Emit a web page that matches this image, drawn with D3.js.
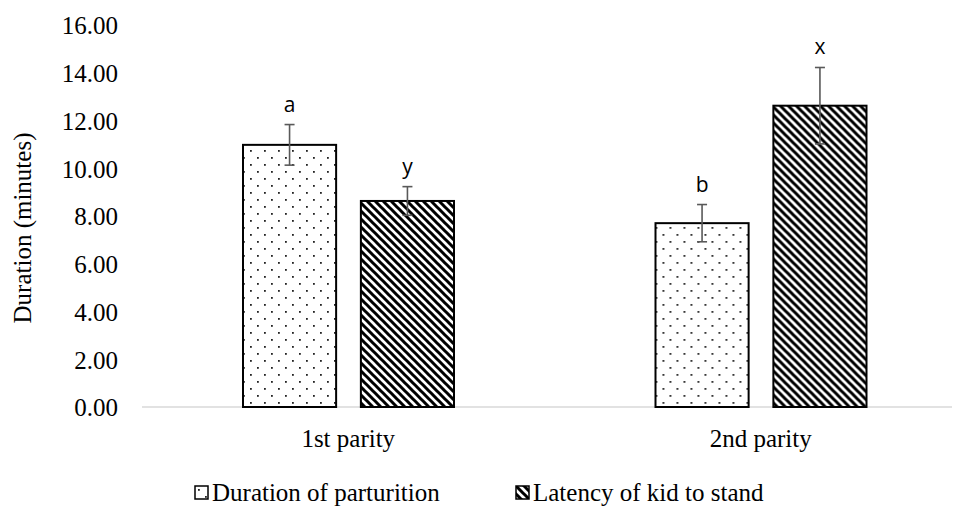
<!DOCTYPE html>
<html lang="en">
<head>
    <meta charset="UTF-8">
    <title>Duration by parity</title>
    <script src="https://d3js.org/d3.v7.min.js"></script>
    <style>
        body { margin: 0; background: #fff; }
    </style>
</head>
<body>
    <svg width="954" height="506"></svg>
    <script>
        // data
        const categories = ["1st parity", "2nd parity"];
        const seriesNames = ["Duration of parturition", "Latency of kid to stand"];
        const durationValues = [10.98, 7.70];
        const durationErrors = [0.85, 0.78];
        const latencyValues = [8.63, 12.62];
        const latencyErrors = [0.60, 1.60];
        const durationLetters = ["a", "b"];
        const latencyLetters = ["y", "x"];
        const yTicks = [0, 2, 4, 6, 8, 10, 12, 14, 16];

        const serif = "'Liberation Serif', 'Times New Roman', Times, Tinos, 'DejaVu Serif', 'Noto Serif', serif";
        const sans = "'Open Sans', 'Liberation Sans', sans-serif";

        const rows = categories.map((c, i) => ({
            cat: c,
            bars: [
                { key: 0, value: durationValues[i], err: durationErrors[i], letter: durationLetters[i] },
                { key: 1, value: latencyValues[i], err: latencyErrors[i], letter: latencyLetters[i] }
            ]
        }));

        const svg = d3.select("svg");

        // patterns
        const defs = svg.append("defs");
        const dots = defs.append("pattern")
            .attr("id", "dots")
            .attr("patternUnits", "userSpaceOnUse")
            .attr("width", 14).attr("height", 14);
        dots.append("rect").attr("width", 14).attr("height", 14).attr("fill", "#fff");
        [[3, 3], [10, 10]].forEach(p => {
            dots.append("rect").attr("x", p[0]).attr("y", p[1])
                .attr("width", 1.8).attr("height", 1.8).attr("fill", "#222");
        });

        const stripes = defs.append("pattern")
            .attr("id", "stripes")
            .attr("patternUnits", "userSpaceOnUse")
            .attr("width", 8).attr("height", 8);
        stripes.append("rect").attr("width", 8).attr("height", 8).attr("fill", "#fff");
        stripes.append("path")
            .attr("d", "M-2,6 L2,10 M0,0 L8,8 M6,-2 L10,2")
            .attr("stroke", "#000").attr("stroke-width", 3);

        const fills = ["url(#dots)", "url(#stripes)"];

        // scales
        const y = d3.scaleLinear().domain([0, 16]).range([407, 25]);
        const x0 = d3.scaleBand().domain(categories).range([142, 967]);
        const x1 = d3.scaleBand().domain([0, 1])
            .range([101, 312])
            .paddingInner(0.21);

        // y tick labels (no axis line)
        const yAxis = svg.append("g")
            .attr("transform", "translate(128,0)")
            .call(d3.axisLeft(y).tickValues(yTicks).tickSize(0).tickPadding(10)
                .tickFormat(d3.format(".2f")));
        yAxis.attr("font-family", serif).attr("font-size", 25);
        yAxis.select(".domain").remove();
        yAxis.selectAll("text").attr("fill", "#000").attr("dy", "0.35em");

        // baseline
        svg.append("line")
            .attr("x1", 142).attr("x2", 952)
            .attr("y1", y(0)).attr("y2", y(0))
            .attr("stroke", "#d9d9d9").attr("stroke-width", 1.5);

        // bars
        const groups = svg.selectAll(".grp")
            .data(rows)
            .enter().append("g")
            .attr("class", "grp")
            .attr("transform", d => `translate(${x0(d.cat)},0)`);

        groups.selectAll("rect")
            .data(d => d.bars)
            .enter().append("rect")
            .attr("x", d => x1(d.key))
            .attr("y", d => y(d.value))
            .attr("width", x1.bandwidth())
            .attr("height", d => y(0) - y(d.value))
            .attr("fill", d => fills[d.key])
            .attr("stroke", "#000")
            .attr("stroke-width", 2);

        // error bars
        const eb = groups.selectAll(".err")
            .data(d => d.bars)
            .enter().append("g")
            .attr("class", "err")
            .attr("stroke", "#595959")
            .attr("stroke-width", 1.6);
        eb.append("line")
            .attr("x1", d => x1(d.key) + x1.bandwidth() / 2)
            .attr("x2", d => x1(d.key) + x1.bandwidth() / 2)
            .attr("y1", d => y(d.value + d.err))
            .attr("y2", d => y(d.value - d.err));
        [1, -1].forEach(s => {
            eb.append("line")
                .attr("x1", d => x1(d.key) + x1.bandwidth() / 2 - 5)
                .attr("x2", d => x1(d.key) + x1.bandwidth() / 2 + 5)
                .attr("y1", d => y(d.value + s * d.err))
                .attr("y2", d => y(d.value + s * d.err));
        });

        // significance letters
        groups.selectAll(".sig-label")
            .data(d => d.bars)
            .enter().append("text")
            .attr("class", "sig-label")
            .attr("x", d => x1(d.key) + x1.bandwidth() / 2)
            .attr("y", d => y(d.value + d.err) - 13)
            .attr("text-anchor", "middle")
            .attr("font-family", sans)
            .attr("font-size", 21)
            .text(d => d.letter);

        // category labels
        svg.selectAll(".cat-label")
            .data(categories)
            .enter().append("text")
            .attr("class", "cat-label")
            .attr("x", d => x0(d) + x0.bandwidth() / 2)
            .attr("y", 447)
            .attr("text-anchor", "middle")
            .attr("font-family", serif)
            .attr("font-size", 25)
            .text(d => d);

        // y axis title
        svg.append("text")
            .attr("transform", `translate(31,${(y(0) + y(16)) / 2 + 12}) rotate(-90)`)
            .attr("text-anchor", "middle")
            .attr("font-family", serif)
            .attr("font-size", 25)
            .text("Duration (minutes)");

        // legend
        const legendX = [195, 516];
        const legend = svg.selectAll(".legend")
            .data(seriesNames)
            .enter().append("g")
            .attr("class", "legend")
            .attr("transform", (d, i) => `translate(${legendX[i]},486)`);
        legend.append("rect")
            .attr("width", 13).attr("height", 13)
            .attr("fill", (d, i) => fills[i])
            .attr("stroke", "#000").attr("stroke-width", 1.5);
        legend.append("text")
            .attr("x", 17).attr("y", 15)
            .attr("font-family", serif)
            .attr("font-size", 25)
            .text(d => d);
    </script>
</body>
</html>
